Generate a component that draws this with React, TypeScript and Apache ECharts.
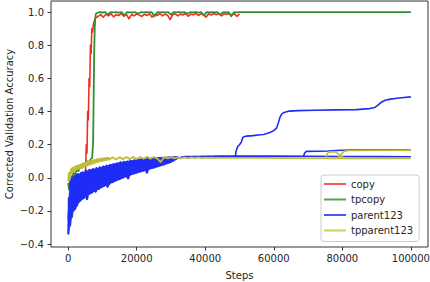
import React, { useEffect, useRef } from "react";
import * as echarts from "echarts";

const xTicks = [0, 20000, 40000, 60000, 80000, 100000];
const yTicks = [-0.4, -0.2, 0, 0.2, 0.4, 0.6, 0.8, 1.0];
const legendNames = ["copy", "tpcopy", "parent123", "tpparent123"];

// ---- copy (red) ----
const copyEarlyStep = 250; // starts at step 0
const copyEarly = [-0.25, -0.17, -0.2, -0.1, -0.13, -0.06, -0.09, -0.04, -0.07, -0.03, -0.06, -0.02, -0.05, -0.01, -0.04, 0.0, -0.03, 0.01, -0.02, 0.03, 0.0];
const copyRise: [number, number][] = [[5300, 0.2], [5500, 0.15], [5700, 0.4], [5900, 0.35], [6100, 0.6], [6300, 0.55], [6500, 0.8], [6700, 0.75], [6900, 0.9], [7100, 0.88], [7400, 0.93], [7700, 0.95]];
const copyNoisyStart = 8000;
const copyNoisyStep = 750;
const copyNoisy = [0.965, 0.975, 0.985, 0.97, 0.988, 0.978, 0.99, 0.972, 0.985, 0.98, 0.992, 0.975, 0.987, 0.96, 0.985, 0.978, 0.99, 0.982, 0.975, 0.988, 0.98, 0.99, 0.97, 0.986, 0.98, 0.992, 0.978, 0.988, 0.982, 0.955, 0.985, 0.99, 0.978, 0.988, 0.983, 0.992, 0.975, 0.988, 0.985, 0.993, 0.98, 0.99, 0.985, 0.97, 0.99, 0.983, 0.993, 0.985, 0.99, 0.978, 0.99, 0.986, 0.993, 0.982, 0.99, 0.975, 0.99];

// ---- tpcopy (green) ----
const tpcopyEarly: [number, number][] = [[0, -0.03], [250, -0.07], [500, -0.02], [750, -0.05], [1000, 0.01], [1250, -0.01], [1500, 0.03], [2000, 0.02], [2500, 0.05], [3000, 0.04], [3500, 0.07], [4000, 0.06], [4500, 0.08], [5000, 0.07], [5500, 0.1], [6000, 0.09], [6500, 0.11], [7000, 0.12]];
const tpcopyRise: [number, number][] = [[7300, 0.22], [7450, 0.5], [7600, 0.75], [7750, 0.9], [7900, 0.96], [8100, 0.99]];
const tpcopyNoisyStart = 8400;
const tpcopyNoisyStep = 800;
const tpcopyNoisy = [0.995, 1.0, 0.998, 1.0, 0.985, 1.0, 0.999, 1.0, 0.997, 1.0, 0.98, 1.0, 0.999, 0.998, 1.0, 0.99, 1.0, 0.999, 1.0, 0.998, 1.0, 0.975, 1.0, 0.999, 1.0, 0.998, 1.0, 0.985, 1.0, 0.999, 1.0, 0.998, 1.0, 0.99, 1.0, 0.999, 1.0, 0.997, 1.0, 0.98, 1.0, 0.999, 1.0, 0.998, 1.0, 0.985, 1.0, 0.999, 1.0, 0.975, 1.0, 0.999, 1.0];
const tpcopyTail: [number, number][] = [[52000, 1.0], [100000, 1.0]];

// ---- parent123 (blue) ----
const parentNoisyStep = 250; // starts at step 0
const parentNoisy = [
  -0.34, -0.12, -0.29, -0.02, -0.24, 0.0, -0.2, 0.01, -0.19, 0.015,
  -0.17, 0.025, -0.15, 0.02, -0.14, 0.03, -0.13, 0.035, -0.125, 0.03,
  -0.11, 0.045, -0.13, 0.04, -0.1, 0.05, -0.095, 0.045, -0.09, 0.055,
  -0.08, 0.05, -0.085, 0.06, -0.07, 0.055, -0.068, 0.065, -0.06, 0.06,
  -0.055, 0.07, -0.05, 0.068, -0.045, 0.075, -0.055, 0.072, -0.038, 0.08,
  -0.03, 0.078, -0.028, 0.085, -0.02, 0.083, -0.018, 0.09, -0.012, 0.088,
  -0.01, 0.095, -0.004, 0.092, 0.0, 0.098, 0.005, 0.096, 0.008, 0.1,
  -0.005, 0.1, 0.016, 0.104, 0.02, 0.102, 0.024, 0.108, 0.026, 0.106,
  0.03, 0.11, 0.034, 0.11, 0.036, 0.113, 0.04, 0.112, 0.042, 0.115,
  0.046, 0.114, 0.03, 0.117, 0.052, 0.116, 0.055, 0.118, 0.058, 0.118,
  0.06, 0.12, 0.064, 0.12, 0.067, 0.121, 0.07, 0.121, 0.074, 0.122,
  0.077, 0.123, 0.08, 0.123, 0.084, 0.124, 0.087, 0.125, 0.09, 0.125,
  0.095, 0.126, 0.1, 0.126, 0.106, 0.127, 0.112, 0.127, 0.12,
];
const parentTail: [number, number][] = [[32000, 0.12], [34000, 0.128], [37000, 0.129], [40000, 0.13], [45000, 0.131], [50000, 0.131], [60000, 0.131], [70000, 0.13], [80000, 0.129], [90000, 0.128], [100000, 0.127]];
const parentRunB: [number, number][] = [[48800, 0.131], [49000, 0.16], [49500, 0.19], [50000, 0.2], [50500, 0.215], [51000, 0.245], [52000, 0.252], [54000, 0.255], [56000, 0.26], [57000, 0.262], [58000, 0.268], [59000, 0.275], [60000, 0.285], [60800, 0.3], [61300, 0.33], [61800, 0.365], [62300, 0.385], [63000, 0.395], [64500, 0.403], [67000, 0.406], [72000, 0.408], [78000, 0.41], [84000, 0.412], [88000, 0.418], [89500, 0.425], [90500, 0.44], [91500, 0.458], [92500, 0.468], [94000, 0.475], [96000, 0.48], [98000, 0.485], [100000, 0.489]];
const parentRunC: [number, number][] = [[68700, 0.131], [69000, 0.15], [69500, 0.16], [76000, 0.162], [78000, 0.165], [82000, 0.168], [100000, 0.17]];

// ---- tpparent123 (yellow) ----
const tpparentNoisyAStep = 400; // starts at step 0
const tpparentNoisyA = [-0.02, 0.03, 0.025, 0.058, 0.04, 0.068, 0.05, 0.075, 0.055, 0.08, 0.062, 0.088, 0.068, 0.093, 0.074, 0.1, 0.08, 0.105, 0.086, 0.108, 0.092, 0.112, 0.097, 0.115, 0.1, 0.118, 0.104, 0.12, 0.107, 0.122, 0.11];
const tpparentNoisyBStart = 13000;
const tpparentNoisyBStep = 1000;
const tpparentNoisyB = [0.124, 0.111, 0.125, 0.112, 0.126, 0.113, 0.126, 0.114, 0.126, 0.115, 0.127, 0.115, 0.126, 0.116, 0.095, 0.125, 0.117, 0.125, 0.117, 0.124, 0.118, 0.124, 0.118, 0.123, 0.119, 0.123, 0.119, 0.122, 0.12, 0.122, 0.12, 0.121, 0.12, 0.121];
const tpparentTail: [number, number][] = [[55000, 0.12], [65000, 0.119], [75000, 0.118], [85000, 0.118], [100000, 0.117]];
const tpparentRunB: [number, number][] = [[75000, 0.118], [75500, 0.14], [76000, 0.155], [78000, 0.158], [79000, 0.14], [80000, 0.125], [81000, 0.119]];
const tpparentRunC: [number, number][] = [[78500, 0.118], [79500, 0.14], [80500, 0.16], [82000, 0.165], [100000, 0.167]];

// plot colours (overlapping runs look saturated) and legend colours (lighter)
const RED = "#f0301e";
const GREEN = "#348c34";
const BLUE = "#1e2cf6";
const YELLOW = "#bdbd3a";
const LEG = { copy: "#f25a50", tpcopy: "#55a055", parent123: "#4a55f2", tpparent123: "#cfcf5a" } as Record<string, string>;

const seq = (start: number, step: number, vals: number[]): [number, number][] =>
  vals.map((v, i) => [start + i * step, v]);

// solid inner band of a noisy run: local min / max of neighbouring samples
function band(start: number, step: number, vals: number[]) {
  const lower: [number, number][] = [];
  const upper: [number, number][] = [];
  vals.forEach((_, i) => {
    const w = vals.slice(Math.max(0, i - 1), i + 2);
    lower.push([start + i * step, Math.min(...w)]);
    upper.push([start + i * step, Math.max(...w)]);
  });
  return { lower, upper };
}

const FONT = "DejaVu Sans";
const TXT = "#262626";

function line(name: string, color: string, data: [number, number][], z: number, width = 1.6) {
  return {
    type: "line",
    name,
    data,
    color,
    z,
    showSymbol: false,
    symbol: "none",
    lineStyle: { color, width, join: "round" },
    itemStyle: { color },
  };
}

export default function App() {
  const ref = useRef<HTMLDivElement>(null);
  useEffect(() => {
    document.body.style.margin = "0";
    const chart = echarts.init(ref.current!, null, { renderer: "svg" });
    const fmtY = (v: number) => v.toFixed(1).replace("-", "\u2212");
    chart.setOption({
      animation: false,
      grid: {
        left: 51, right: 2, top: 1, bottom: 35,
        containLabel: false, outerBoundsMode: "none",
        show: true, borderColor: "#333", borderWidth: 1, backgroundColor: "transparent",
      },
      legend: {
        data: legendNames.map((n) => ({ name: n, itemStyle: { color: LEG[n] } })),
        orient: "vertical",
        left: 321,
        top: 175,
        z: 20,
        padding: [3, 6, 5, 3],
        icon: "rect",
        itemWidth: 22,
        itemHeight: 2,
        itemGap: 3.5,
        itemTextGap: 8,
        selectedMode: false,
        backgroundColor: "rgba(255,255,255,0.8)",
        borderColor: "#cccccc",
        borderWidth: 1,
        borderRadius: 3,
        textStyle: { fontFamily: FONT, fontSize: 10, color: TXT, lineHeight: 12 },
      },
      xAxis: {
        type: "value",
        min: -5000,
        max: 105000,
        name: "Steps",
        nameLocation: "middle",
        nameGap: 23,
        nameMoveOverlap: false,
        nameTextStyle: { fontFamily: FONT, fontSize: 10, color: TXT },
        axisLine: { show: false, onZero: false },
        splitLine: { show: false },
        axisTick: { show: true, length: 3.5, lineStyle: { color: "#333" }, customValues: xTicks },
        axisLabel: { fontFamily: FONT, fontSize: 10, color: TXT, margin: 6, customValues: xTicks, formatter: (v: number) => String(v) },
      },
      yAxis: {
        type: "value",
        min: -0.4175,
        max: 1.0675,
        name: "Corrected Validation Accuracy",
        nameLocation: "middle",
        nameRotate: 90,
        nameGap: 37,
        nameMoveOverlap: false,
        nameTextStyle: { fontFamily: FONT, fontSize: 10, color: TXT },
        axisLine: { show: false, onZero: false },
        splitLine: { show: false },
        axisTick: { show: true, length: 3.5, lineStyle: { color: "#333" }, customValues: yTicks },
        axisLabel: { fontFamily: FONT, fontSize: 10, color: TXT, margin: 7, customValues: yTicks, formatter: fmtY },
      },
      series: [
        line("copy", RED, [...seq(0, copyEarlyStep, copyEarly), ...copyRise, ...seq(copyNoisyStart, copyNoisyStep, copyNoisy)], 1),
        line("tpcopy", GREEN, [...tpcopyEarly, ...tpcopyRise, ...seq(tpcopyNoisyStart, tpcopyNoisyStep, tpcopyNoisy), ...tpcopyTail], 1, 1.8),
        line("parent123", BLUE, seq(0, parentNoisyStep, parentNoisy), 3, 1.6),
        line("parent123", BLUE, parentTail, 3),
        line("parent123", BLUE, parentRunB, 3),
        line("parent123", BLUE, parentRunC, 3),
        line("tpparent123", YELLOW, [...seq(0, tpparentNoisyAStep, tpparentNoisyA), ...seq(tpparentNoisyBStart, tpparentNoisyBStep, tpparentNoisyB), ...tpparentTail], 5, 1.8),
        line("tpparent123", YELLOW, tpparentRunB, 5),
        line("tpparent123", YELLOW, tpparentRunC, 5),
      ],
    });
    // solid fill of the dense noisy bands, placed through the chart's own scales
    const toPx = (p: [number, number]) => chart.convertToPixel({ gridIndex: 0 }, p) as number[];
    const poly = (b: { lower: [number, number][]; upper: [number, number][] }, color: string, z: number) => ({
      type: "polygon",
      z,
      silent: true,
      shape: { points: [...b.upper, ...b.lower.slice().reverse()].map(toPx) },
      style: { fill: color, stroke: color, lineWidth: 0.6 },
    });
    chart.setOption({
      graphic: [
        poly(band(0, parentNoisyStep, parentNoisy), BLUE, 2),
        poly(band(0, tpparentNoisyAStep, tpparentNoisyA), YELLOW, 4),
      ],
    });
    return () => chart.dispose();
  }, []);
  return <div ref={ref} style={{ width: 430, height: 282 }} />;
}
